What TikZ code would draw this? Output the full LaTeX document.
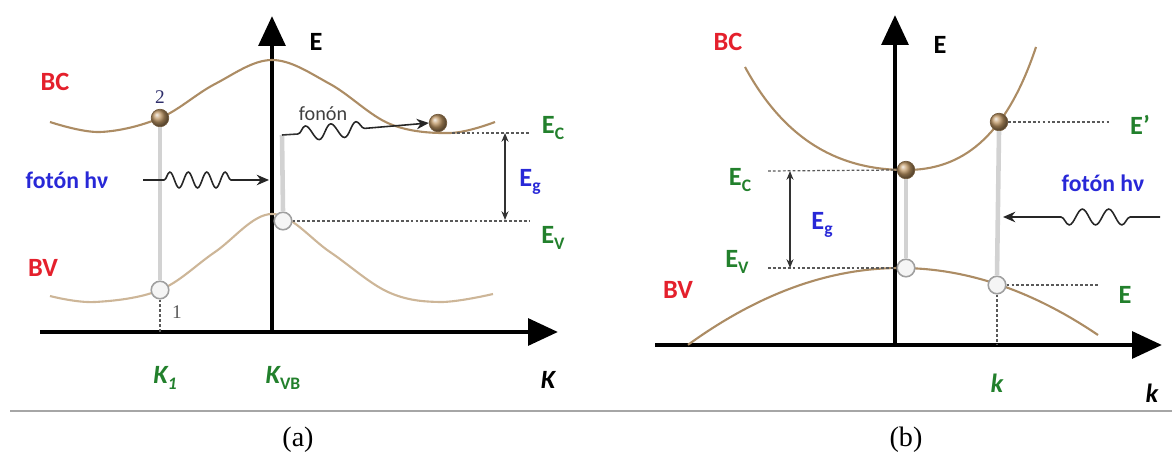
\documentclass[tikz,border=0pt]{standalone}
\usepackage{fontspec}
\setmainfont{Liberation Serif}
\newfontfamily\lblfont{Carlito}
\usetikzlibrary{arrows.meta,decorations.pathmorphing}
\definecolor{bandc}{RGB}{172,140,100}
\definecolor{bandv}{RGB}{205,182,152}
\definecolor{lblred}{RGB}{228,32,44}
\definecolor{lblgreen}{RGB}{34,128,44}
\definecolor{lblblue}{RGB}{40,40,215}
\definecolor{elecc}{RGB}{190,150,100}
\newcommand{\lo}[1]{\raisebox{-0.45ex}{\fontsize{10}{10}\selectfont #1}}
\begin{document}
\begin{tikzpicture}[x=0.02cm,y=-0.02cm,
  every node/.style={font=\lblfont\bfseries\fontsize{15}{17}\selectfont},
  axis/.style={line width=2.7pt,-{Triangle[length=17pt,width=15pt]}},
  band/.style={line width=1.2pt,bandc},
  bandlow/.style={line width=1.2pt,bandv},
  elec/.style={circle,inner sep=0pt,minimum size=10pt,ball color=elecc,draw=elecc!60!black,line width=0.4pt},
  hole/.style={circle,inner sep=0pt,minimum size=10pt,fill=gray!8,draw=gray!75,line width=0.9pt},
  level/.style={dash pattern=on 1.6pt off 1.2pt,gray!70!black,line width=0.7pt},
  trans/.style={line width=2.6pt,gray!35},
  gap/.style={line width=0.7pt,black!80,{Stealth[length=5pt,width=4pt]}-{Stealth[length=5pt,width=4pt]}},
  photon/.style={line width=0.9pt,black!85,-{Stealth[length=7pt,width=6pt]},decorate},
  red/.style={text=lblred},
  grn/.style={text=lblgreen},
  blu/.style={text=lblblue}]
\useasboundingbox (0,0) rectangle (1172,465);
% ---------- (a) indirect gap ----------
\coordinate (Oa) at (272,332);
\coordinate (Ka) at (40,332);
\draw[axis] (Ka) -- (558,332);
\draw[axis] (272,334) -- (272,16);
\node (Ea) at (316,42) {E};
\draw[band] plot[smooth,tension=0.6] coordinates {(50,122) (100,132) (160,118) (215,84) (272,60) (330,84) (390,124) (450,133) (495,122)};
\draw[bandlow] plot[smooth,tension=0.6] coordinates {(50,296) (95,302) (160,290) (215,252) (272,214) (330,252) (388,292) (440,302) (493,294)};
\node[red] (BCa) at (55,82) {BC};
\node[red] (BVa) at (43,268) {BV};
\node[elec] (e2) at (160,118) {};
\node[hole] (h1) at (160,290) {};
\node[hole] (hVB) at (283,221) {};
\node[elec] (eC) at (438,123) {};
\node[font=\fontsize{11}{12}\selectfont,text=gray!60!blue!60!black] (n2) at (160,97) {2};
\node[font=\fontsize{11}{12}\selectfont,text=gray!70!black] (n1) at (177,312) {1};
\draw[level] (h1.south) -- (160,332);
\draw[trans] (h1.north) -- (e2.south);
% photon in
\coordinate (phA) at (143,180);
\coordinate (phB) at (269,180);
\draw[photon,decoration={snake,amplitude=4.5pt,segment length=10.5pt,pre length=12pt,post length=21pt}] (phA) -- (phB);
\node[blu,font=\lblfont\bfseries\fontsize{13.5}{15}\selectfont] (fa) at (67,180) {fotón hν};
% phonon
\coordinate (c1) at (282,135);
\coordinate (c2) at (298,134);
\draw[trans] (hVB.north) -- (c1);
\draw[line width=0.9pt,black!80] (c1) -- (c2);
\draw[photon,decoration={snake,amplitude=4.2pt,segment length=14.5pt,post length=30pt}] (c2) -- (eC.west);
\node[font=\lblfont\fontsize{11.5}{13}\selectfont,text=black!75] (fon) at (323,114) {fonón};
% levels
\draw[level] (452,133) -- (530,133);
\draw[level] (hVB.east) -- (530,221);
\draw[gap] (505,133) -- (505,220);
\node[blu] (Ega) at (530,182) {E\lo{g}};
\node[grn] (ECa) at (553,128) {E\lo{C}};
\node[grn] (EVa) at (553,238) {E\lo{V}};
\node[grn,font=\lblfont\bfseries\itshape\fontsize{15}{17}\selectfont] (K1) at (165,378) {K\lo{1}};
\node[grn,font=\lblfont\bfseries\itshape\fontsize{15}{17}\selectfont] (KVB) at (283,378) {K\lo{\upshape VB}};
\node[font=\lblfont\bfseries\itshape\fontsize{15}{17}\selectfont] (Kax) at (548,380) {K};
% ---------- (b) direct gap ----------
\coordinate (Ob) at (895,345);
\draw[axis] (655,345) -- (1162,345);
\draw[axis] (895,347) -- (895,15);
\node (Eb) at (940,45) {E};
\draw[band] (745,67) .. controls (790,150) and (850,170) .. (906,170) .. controls (960,170) and (1005,140) .. (1036,47);
\draw[band] plot[domain=688:1098,samples=60] (\x,{268+0.00171*(\x-900)*(\x-900)});
\node[red] (BCb) at (728,42) {BC};
\node[red] (BVb) at (678,290) {BV};
\node[elec] (eMin) at (906,170) {};
\node[elec] (eK) at (999,122) {};
\node[hole] (hTop) at (906,268) {};
\node[hole] (hK) at (997,285) {};
\draw[trans] (hTop.north) -- (eMin.south);
\draw[trans] (hK.north) -- (eK.south);
\draw[level] (768,171) -- (eMin.west);
\draw[level] (768,268) -- (hTop.west);
\draw[gap] (790,171) -- (790,268);
\node[blu] (Egb) at (822,225) {E\lo{g}};
\node[grn] (ECb) at (740,180) {E\lo{C}};
\node[grn] (EVb) at (737,262) {E\lo{V}};
\draw[level] (eK.east) -- (1110,122);
\node[grn] (Ep) at (1140,125) {E’};
\draw[level] (hK.east) -- (1100,285);
\node[grn] (Ek) at (1125,295) {E};
\draw[level] (hK.south) -- (997,345);
% photon in
\coordinate (pbA) at (1160,217);
\coordinate (pbB) at (1003,217);
\draw[photon,decoration={snake,amplitude=4.5pt,segment length=15pt,pre length=17pt,post length=27pt}] (pbA) -- (pbB);
\node[blu,font=\lblfont\bfseries\fontsize{13.5}{15}\selectfont] (fb) at (1103,183) {fotón hν};
\node[grn,font=\lblfont\bfseries\itshape\fontsize{15}{17}\selectfont] (kg) at (997,383) {k};
\node[font=\lblfont\bfseries\itshape\fontsize{15}{17}\selectfont] (kax) at (1152,393) {k};
% baseline and captions
\draw[gray!70,line width=1.2pt] (10,411) -- (1172,411);
\node[font=\rmfamily\fontsize{16}{18}\selectfont] (capa) at (298,440) {(a)};
\node[font=\rmfamily\fontsize{16}{18}\selectfont] (capb) at (906,440) {(b)};
\end{tikzpicture}
\end{document}
